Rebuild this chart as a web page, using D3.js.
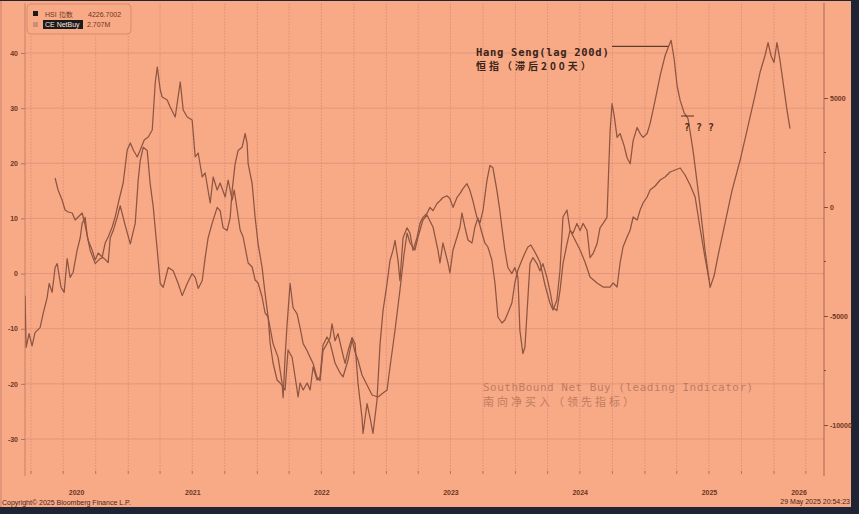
<!DOCTYPE html>
<html><head><meta charset="utf-8">
<script src="https://cdn.jsdelivr.net/npm/d3@7/dist/d3.min.js"></script>
<style>html,body{margin:0;padding:0;background:#1e2433;}svg{display:block;}</style>
</head><body><svg id="c" width="859" height="514"></svg>
<script>
// ---- DATA ----
// Hang Seng (lag 200d), % change, left axis; dates as decimal years
const hsiT = [2020.203,2020.211,2020.234,2020.257,2020.280,2020.319,2020.342,2020.373,2020.389,2020.412,2020.435,2020.451,2020.481,2020.505,2020.528,2020.551,2020.574,2020.605,2020.629,2020.644,2020.667,2020.683,2020.706,2020.745,2020.783,2020.807,2020.845,2020.861,2020.884,2020.915,2020.938,2020.977,2021.016,2021.054,2021.077,2021.093,2021.116,2021.147,2021.170,2021.194,2021.225,2021.248,2021.271,2021.310,2021.348,2021.387,2021.418,2021.457,2021.495,2021.519,2021.542,2021.573,2021.596,2021.619,2021.650,2021.689,2021.712,2021.735,2021.766,2021.790,2021.805,2021.828,2021.851,2021.882,2021.906,2021.921,2021.929,2021.960,2021.983,2022.006,2022.037,2022.060,2022.084,2022.122,2022.161,2022.192,2022.200,2022.215,2022.231,2022.254,2022.277,2022.308,2022.331,2022.355,2022.386,2022.409,2022.432,2022.463,2022.486,2022.509,2022.540,2022.564,2022.579,2022.602,2022.625,2022.656,2022.680,2022.703,2022.734,2022.757,2022.780,2022.811,2022.819,2022.850,2022.873,2022.896,2022.927,2022.951,2022.974,2023.005,2023.028,2023.051,2023.067,2023.090,2023.105,2023.129,2023.160,2023.183,2023.206,2023.237,2023.260,2023.283,2023.314,2023.338,2023.361,2023.392,2023.415,2023.438,2023.469,2023.492,2023.516,2023.547,2023.570,2023.593,2023.624,2023.647,2023.670,2023.701,2023.725,2023.748,2023.779,2023.802,2023.825,2023.856,2023.879,2023.895,2023.918,2023.941,2023.972,2023.995,2024.019,2024.034,2024.057,2024.073,2024.096,2024.112,2024.135,2024.166,2024.189,2024.212,2024.243,2024.266,2024.290,2024.320,2024.344,2024.367,2024.398,2024.421,2024.444,2024.475,2024.499,2024.522,2024.553,2024.576,2024.599,2024.630,2024.653,2024.677,2024.707,2024.731,2024.746,2024.762,2024.785,2024.808,2024.839,2024.862,2024.886,2024.909,2024.940,2024.963,2024.986,2025.017,2025.040,2025.079,2025.118,2025.156,2025.180,2025.203,2025.226,2025.249,2025.273,2025.303,2025.334,2025.373,2025.427,2025.466,2025.505,2025.536,2025.567,2025.621,2025.675,2025.737,2025.799,2025.853,2025.892,2025.930,2025.954,2025.977,2026.000,2026.023,2026.047,2026.077,2026.101,2026.124];
const hsiV = [-4.0,-13.4,-10.9,-13.1,-10.7,-9.8,-7.3,-4.4,-1.8,-3.4,1.1,1.8,-2.5,-3.4,2.7,-0.7,0.2,4.2,6.5,9.1,10.2,6.9,4.2,1.8,2.7,2.9,2.0,6.5,7.8,10.2,12.3,8.7,5.4,9.1,16.9,20.5,22.9,22.3,16.3,12.0,4.2,-1.8,-2.5,1.1,0.5,-1.8,-4.0,-1.8,0.0,-0.7,-2.7,-1.3,2.9,6.5,9.1,12.0,11.4,8.3,7.8,10.2,15.1,19.9,22.3,22.9,25.4,23.6,19.9,16.3,10.2,5.4,1.1,-3.6,-8.0,-12.7,-15.2,-19.9,-22.5,-15.2,-9.1,-1.8,-6.2,-7.3,-9.8,-12.7,-14.0,-15.2,-16.3,-18.9,-19.4,-14.0,-12.7,-11.6,-9.1,-12.2,-10.9,-14.0,-16.3,-14.0,-11.6,-12.7,-19.9,-26.1,-29.0,-23.6,-26.1,-29.0,-23.0,-12.7,-6.7,-1.8,2.4,4.2,6.0,2.4,-1.3,6.5,8.3,7.3,4.2,6.5,9.1,10.2,10.9,12.0,11.4,12.7,13.2,13.8,14.1,13.6,12.0,13.8,14.5,15.4,16.3,15.1,13.2,10.2,9.2,11.4,16.9,19.6,19.2,15.1,11.4,8.3,4.2,1.1,0.0,1.1,-0.7,-10.3,-14.5,-13.4,-4.4,1.8,2.9,1.8,0.5,1.8,-0.7,-3.1,-6.2,-6.7,-3.1,1.8,5.4,7.8,7.3,9.1,7.8,9.1,7.8,2.9,3.6,5.4,8.3,9.1,10.2,25.9,30.8,28.7,24.7,25.4,23.2,21.0,19.9,24.1,26.5,25.4,24.7,25.4,27.2,31.4,35.9,39.5,41.0,42.3,39.0,34.1,31.4,29.2,28.1,22.3,12.3,4.2,-2.5,-0.4,3.3,9.2,15.1,20.5,26.8,32.3,36.5,39.5,41.9,39.5,38.3,41.9,38.6,33.6,29.6,26.3];

// SouthBound net buy, right axis
const sbT = [2020.435,2020.458,2020.489,2020.512,2020.536,2020.567,2020.590,2020.613,2020.644,2020.667,2020.690,2020.721,2020.745,2020.768,2020.799,2020.822,2020.845,2020.876,2020.899,2020.923,2020.961,2020.992,2021.016,2021.039,2021.070,2021.093,2021.124,2021.155,2021.186,2021.209,2021.225,2021.248,2021.263,2021.302,2021.325,2021.364,2021.403,2021.426,2021.457,2021.495,2021.519,2021.542,2021.573,2021.596,2021.635,2021.658,2021.689,2021.712,2021.751,2021.774,2021.805,2021.821,2021.844,2021.867,2021.890,2021.929,2021.960,2021.983,2022.006,2022.037,2022.060,2022.084,2022.099,2022.122,2022.153,2022.177,2022.215,2022.238,2022.269,2022.293,2022.316,2022.331,2022.355,2022.386,2022.409,2022.432,2022.463,2022.486,2022.509,2022.540,2022.564,2022.602,2022.641,2022.664,2022.703,2022.734,2022.757,2022.780,2022.811,2022.850,2022.889,2022.935,2022.974,2023.005,2023.028,2023.067,2023.105,2023.136,2023.160,2023.183,2023.221,2023.245,2023.283,2023.314,2023.361,2023.399,2023.415,2023.438,2023.477,2023.492,2023.516,2023.547,2023.570,2023.585,2023.608,2023.632,2023.663,2023.686,2023.709,2023.740,2023.763,2023.786,2023.817,2023.841,2023.864,2023.895,2023.918,2023.941,2023.972,2023.995,2024.019,2024.050,2024.073,2024.096,2024.119,2024.150,2024.189,2024.228,2024.266,2024.290,2024.320,2024.344,2024.367,2024.398,2024.421,2024.460,2024.499,2024.537,2024.576,2024.630,2024.677,2024.731,2024.754,2024.785,2024.808,2024.831,2024.862,2024.886,2024.909,2024.940,2024.963,2024.986,2025.017,2025.040,2025.079,2025.118,2025.156,2025.195,2025.234,2025.273,2025.311,2025.350,2025.389,2025.427,2025.466,2025.497];
const sbV = [1330,780,321,-138,-229,-275,-596,-459,-275,-826,-1514,-1972,-2431,-2110,-2294,-1651,-1376,-917,-459,183,1101,2615,2936,2615,2294,2615,3073,3211,3532,5688,6422,5367,5046,4908,4587,4128,5734,4449,4128,3991,2294,2477,1376,1560,183,1376,780,1101,459,1238,321,780,-138,-1055,-1376,-2569,-2752,-3349,-3486,-4128,-4862,-5046,-6238,-7156,-7936,-8073,-8394,-6559,-6881,-7798,-8715,-8073,-8394,-8073,-8394,-7339,-7936,-7798,-6330,-5963,-6238,-7156,-7614,-7798,-7018,-6101,-6651,-7018,-7706,-8165,-8624,-8715,-8532,-8394,-7339,-5642,-3807,-2202,-1193,-1651,-1972,-1376,-596,-367,-917,-1972,-2569,-1651,-2569,-3027,-1972,-1376,-917,-275,-917,-1514,-1651,-917,-505,-1193,-1651,-1835,-2431,-3486,-5046,-5321,-5183,-4862,-4404,-3486,-2890,-2431,-2110,-1835,-1743,-2064,-2523,-3578,-4404,-4725,-4266,-2890,-459,-138,-1055,-1514,-1972,-2523,-3211,-3486,-3670,-3670,-3486,-3670,-2569,-1835,-1376,-1055,-459,-596,-138,183,459,780,963,1238,1376,1605,1697,1789,1468,1009,459,-963,-2339,-3349];

const leftTicks = [40,30,20,10,0,-10,-20,-30];
const rightTicks = [5000,0,-5000,-10000];
const rightMinor = [2500,-2500,-7500];
const yearLabels = [2020,2021,2022,2023,2024,2025,2026];
const legendRows = [["HSI 指数","4226.7002"],["CE NetBuy","2.707M"]];
const annoHSI = ["Hang Seng(lag 200d)","恒指（滞后200天）"];
const annoSB = ["SouthBound Net Buy (leading Indicator)","南向净买入（领先指标）"];
const footerLeft = "Copyright© 2025 Bloomberg Finance L.P.";
const footerRight = "29 May 2025 20:54:23";

// ---- DRAW ----
const BG="#f8aa87", LINE="#8e5541", TXT="#6e3522", GRID="#e0937a";
const svg=d3.select("#c");
const P={l:25,r:824,t:3,b:476};
function dec(d){const y=Math.floor(d);const s=Date.UTC(y,0,1),e=Date.UTC(y+1,0,1);return new Date(s+(d-y)*(e-s));}

svg.append("rect").attr("width",859).attr("height",514).attr("fill","#1e2433");
svg.append("rect").attr("x",0).attr("y",1).attr("width",851).attr("height",506).attr("fill",BG);
svg.append("rect").attr("x",0).attr("y",1).attr("width",2).attr("height",506).attr("fill","#e39579");

const x=d3.scaleUtc().domain([dec(2020),dec(2026)]).range([-1.2,774]);
const yL=d3.scaleLinear().domain([-30,40]).range([439,53]);
const yR=d3.scaleLinear().domain([-10000,5000]).range([425,98]);

// vertical quarterly grid
const quarters=d3.utcMonth.every(3).range(dec(2020),dec(2026.5)).filter(d=>x(d)>P.l&&x(d)<P.r);
svg.append("g").selectAll("line").data(quarters).join("line")
 .attr("x1",d=>x(d)).attr("x2",d=>x(d)).attr("y1",P.t).attr("y2",P.b-4)
 .attr("stroke",GRID).attr("stroke-width",0.9).attr("stroke-dasharray","2,1");
// horizontal grid
svg.append("g").selectAll("line").data(leftTicks).join("line")
 .attr("x1",P.l).attr("x2",P.r).attr("y1",d=>yL(d)).attr("y2",d=>yL(d))
 .attr("stroke",GRID).attr("stroke-width",0.9);

// left axis
const gl=svg.append("g").attr("transform",`translate(${P.l},0)`)
 .call(d3.axisLeft(yL).tickValues(leftTicks).tickSize(4).tickFormat(d=>d));
gl.select(".domain").attr("stroke","#c98068").attr("d",`M0,${P.t}V${P.b}`);
gl.selectAll(".tick line").attr("stroke","#b87058");
gl.selectAll("text").attr("fill",TXT).attr("font-size",7).attr("font-family","Liberation Sans, Arial").attr("font-weight","bold").attr("x",-7);
// right axis
const gr=svg.append("g").attr("transform",`translate(${P.r},0)`)
 .call(d3.axisRight(yR).tickValues(rightTicks).tickSize(4).tickFormat(d=>d));
gr.select(".domain").attr("stroke","#a86450").attr("d",`M0,${P.t}V${P.b}`);
gr.selectAll(".tick line").attr("stroke","#8a4a35");
gr.selectAll("text").attr("fill",TXT).attr("font-size",7).attr("font-family","Liberation Sans, Arial").attr("font-weight","bold").attr("x",6);
svg.append("g").selectAll("line").data(rightMinor).join("line")
 .attr("x1",P.r).attr("x2",P.r+2).attr("y1",d=>yR(d)).attr("y2",d=>yR(d)).attr("stroke","#8a4a35");

// bottom ticks and year labels
svg.append("g").selectAll("line").data(quarters).join("line")
 .attr("x1",d=>x(d)).attr("x2",d=>x(d)).attr("y1",P.b-5).attr("y2",P.b-2).attr("stroke","#b87058");
svg.append("g").selectAll("text").data(yearLabels).join("text")
 .attr("x",d=>{const a=Math.max(x(dec(d)),P.l),b=Math.min(x(dec(d+1)),P.r);return (a+b)/2;})
 .attr("y",495).attr("text-anchor","middle").attr("fill",TXT).attr("font-size",7)
 .attr("font-weight","bold").attr("font-family","Liberation Sans, Arial").text(d=>d);

// clip
svg.append("clipPath").attr("id","pc").append("rect").attr("x",P.l).attr("y",P.t).attr("width",P.r-P.l).attr("height",P.b-P.t);
const gp=svg.append("g").attr("clip-path","url(#pc)");
const hsi=hsiT.map((t,i)=>({d:dec(t),v:hsiV[i]}));
const sb=sbT.map((t,i)=>({d:dec(t),v:sbV[i]}));
gp.append("path").datum(sb).attr("fill","none").attr("stroke",LINE).attr("stroke-width",1.25).attr("stroke-linejoin","round")
 .attr("d",d3.line().x(d=>x(d.d)).y(d=>yR(d.v)));
gp.append("path").datum(hsi).attr("fill","none").attr("stroke",LINE).attr("stroke-width",1.25).attr("stroke-linejoin","round")
 .attr("d",d3.line().x(d=>x(d.d)).y(d=>yL(d.v)));

// annotations
const mono="DejaVu Sans Mono, monospace";
const pk=hsi[d3.maxIndex(hsi,d=>d.v)];
svg.append("line").attr("x1",612).attr("x2",x(pk.d)-3).attr("y1",yL(pk.v)+6).attr("y2",yL(pk.v)+6).attr("stroke","#3a2418").attr("stroke-width",1);
svg.append("text").attr("x",476).attr("y",56).attr("font-family",mono).attr("font-size",10.5).attr("font-weight","bold").attr("letter-spacing",0.7).attr("fill","#3a2418").text(annoHSI[0]);
svg.append("text").attr("x",476).attr("y",70).attr("font-family","Noto Sans CJK SC").attr("font-size",10).attr("font-weight","bold").attr("letter-spacing",3).attr("fill","#3a2418").text(annoHSI[1]);
svg.append("line").attr("x1",681).attr("x2",694).attr("y1",116).attr("y2",116).attr("stroke","#5a3020").attr("stroke-width",1);
svg.append("text").attr("x",684).attr("y",131).attr("font-family",mono).attr("font-size",10).attr("font-weight","bold").attr("fill","#4a2a1c").text("? ? ?");
svg.append("text").attr("x",483).attr("y",391).attr("font-family",mono).attr("font-size",11).attr("letter-spacing",0.5).attr("fill","#c07c5e").text(annoSB[0]);
svg.append("text").attr("x",483).attr("y",406).attr("font-family","Noto Sans CJK SC").attr("font-size",11).attr("letter-spacing",3).attr("fill","#c07c5e").text(annoSB[1]);

// legend
svg.append("rect").attr("x",27).attr("y",4).attr("width",104).attr("height",30).attr("rx",4).attr("fill",BG).attr("stroke","#d98a6c");
svg.append("rect").attr("x",33).attr("y",11).attr("width",5).attr("height",5).attr("fill","#1e1a18");
svg.append("rect").attr("x",33).attr("y",22).attr("width",5).attr("height",5).attr("fill","#c98f74");
svg.append("rect").attr("x",43).attr("y",20).attr("width",40).attr("height",9).attr("fill","#1e1a18");
svg.append("text").attr("x",45).attr("y",17).attr("font-size",7).attr("font-family","Liberation Sans, Arial").attr("fill",TXT).text(legendRows[0][0]);
svg.append("text").attr("x",88).attr("y",17).attr("font-size",7).attr("font-family","Liberation Sans, Arial").attr("fill",TXT).text(legendRows[0][1]);
svg.append("text").attr("x",45).attr("y",27).attr("font-size",7).attr("font-family","Liberation Sans, Arial").attr("fill","#f4e8e0").text(legendRows[1][0]);
svg.append("text").attr("x",87).attr("y",27).attr("font-size",7).attr("font-family","Liberation Sans, Arial").attr("fill",TXT).text(legendRows[1][1]);

// footer
svg.append("text").attr("x",2).attr("y",505).attr("font-size",7).attr("font-family","Liberation Sans, Arial").attr("fill","#4a2418").text(footerLeft);
svg.append("text").attr("x",850).attr("y",504).attr("text-anchor","end").attr("font-size",7).attr("font-family","Liberation Sans, Arial").attr("fill","#4a2418").text(footerRight);
</script></body></html>
